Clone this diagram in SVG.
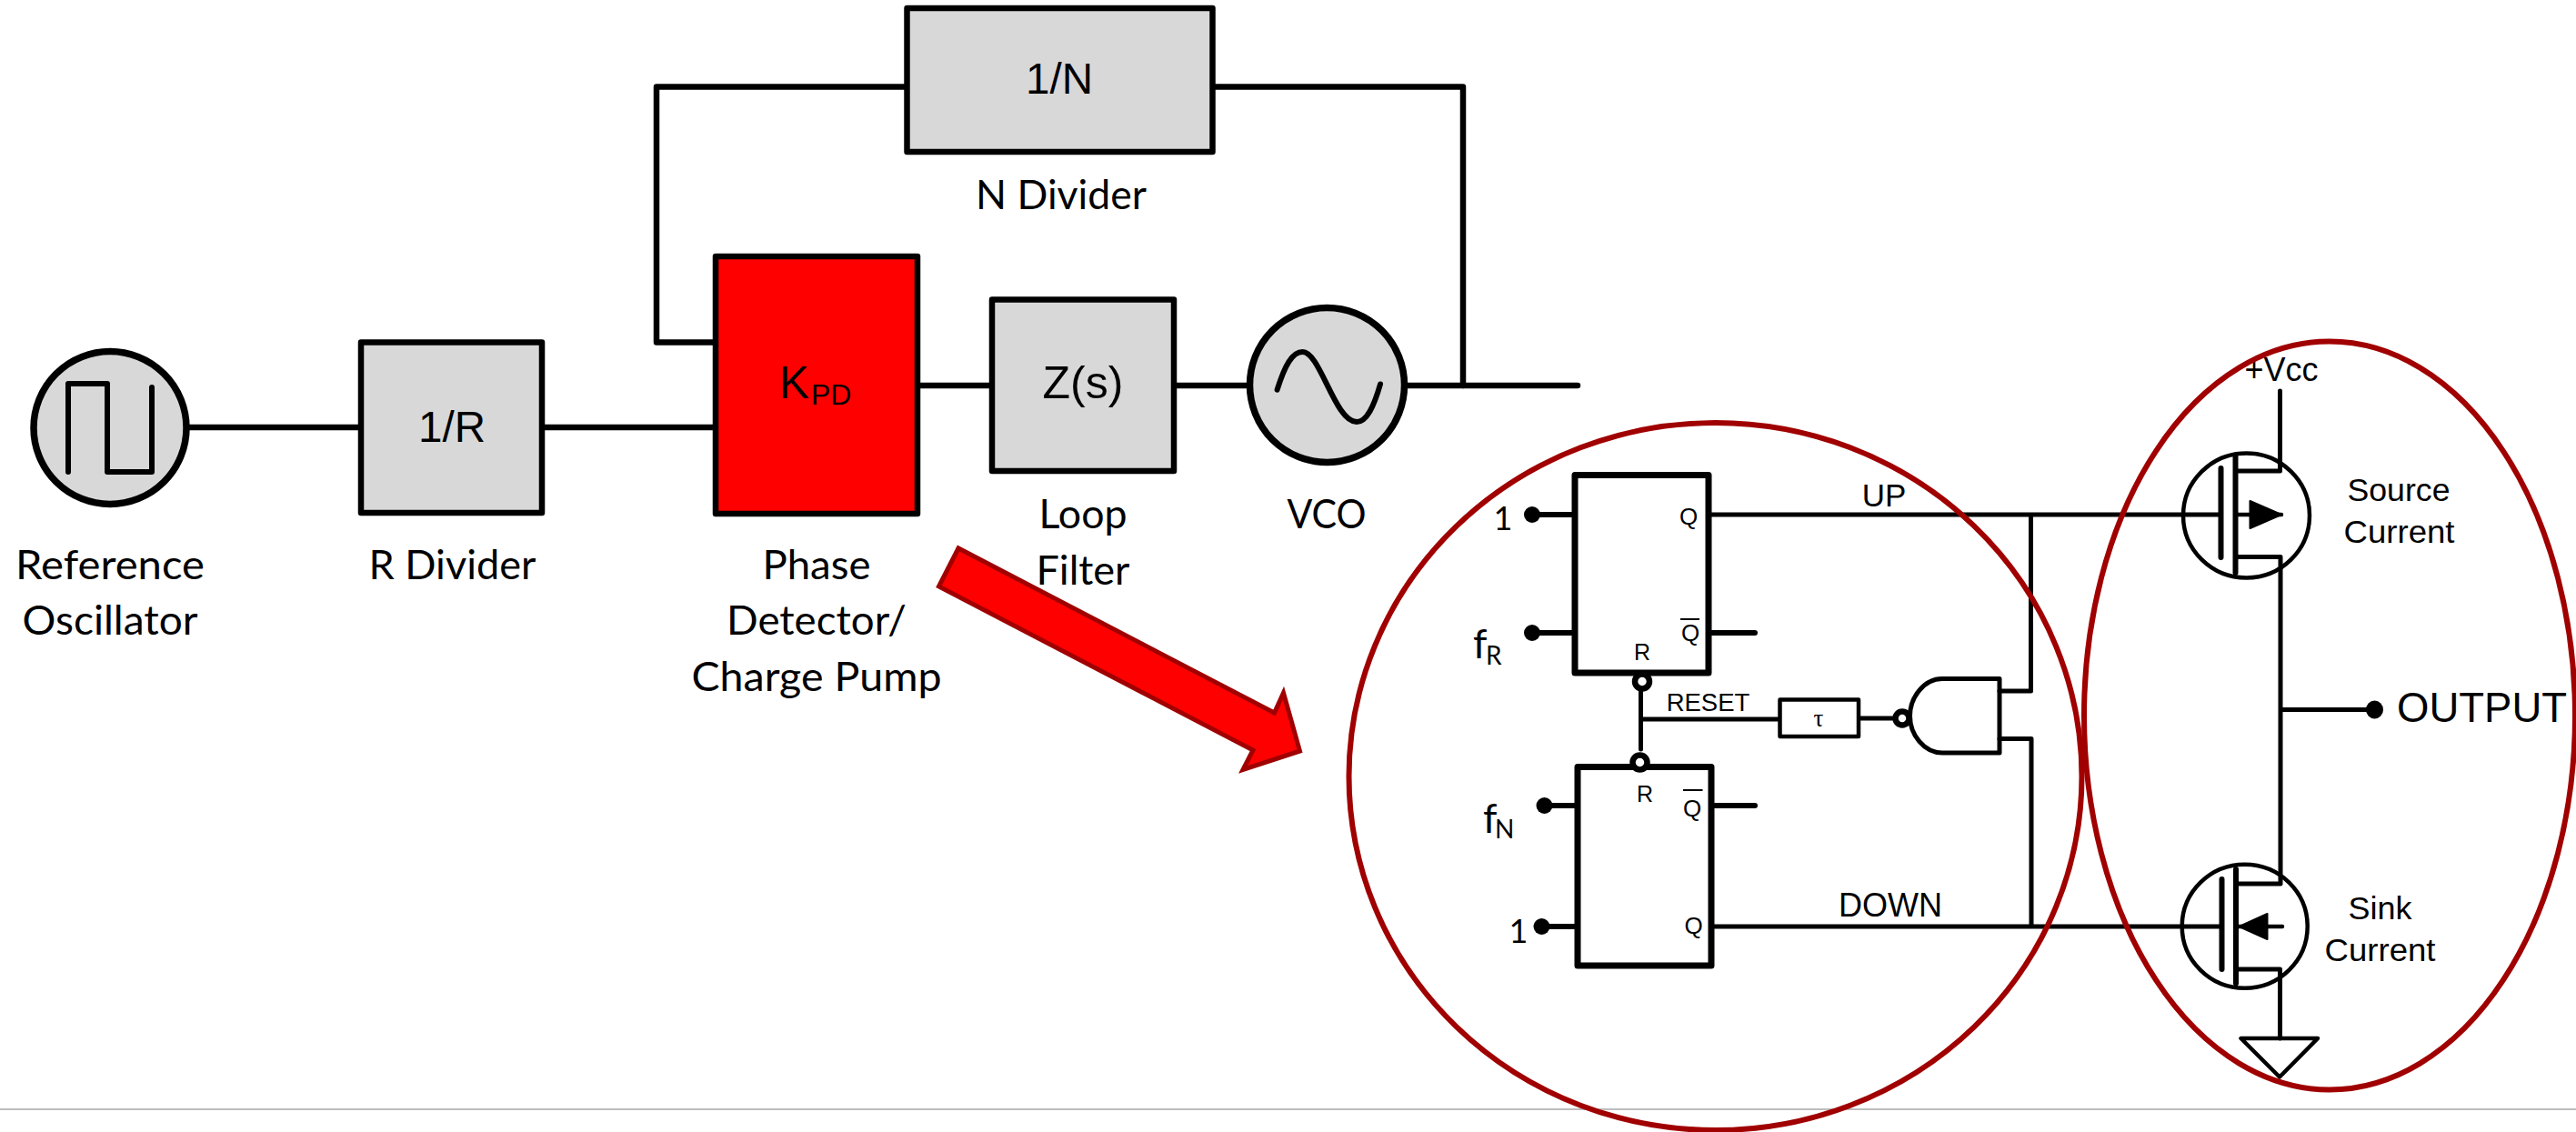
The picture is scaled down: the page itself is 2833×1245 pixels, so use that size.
<svg xmlns="http://www.w3.org/2000/svg" width="2833" height="1245" viewBox="0 0 2833 1245">
<style>
text{fill:#000;text-anchor:middle}
.a{font-family:"Liberation Sans",Arial,sans-serif}
.c{font-family:Lato,"Liberation Sans",sans-serif;font-size:44px}
.l{text-anchor:start}
.box{fill:#d8d8d8;stroke:#000;stroke-width:6.5;stroke-linejoin:round}
.osc{stroke-width:7.5}
.w{fill:none;stroke:#000;stroke-linejoin:round;stroke-linecap:round}
.w8{stroke-width:6.500}
.w5{stroke-width:5}
.w6{stroke-width:6}
.w4{stroke-width:4.5}
.ff{fill:#fff;stroke:#000;stroke-width:7;stroke-linejoin:round}
.bub{fill:#fff;stroke:#000;stroke-width:6.5}
.mos{fill:none;stroke:#000;stroke-width:4.5}
.ring{fill:none;stroke:#a00000;stroke-width:6}
</style>
<line x1="0" y1="1220" x2="2833" y2="1220" stroke="#bdbdbd" stroke-width="2"/>
<g id="connectors">
<path class="w w8" d="M207 470H397M596 470H787"/>
<path class="w w8" d="M1009 424H1091M1291 424H1374M1545 424H1735"/>
<path class="w w8" d="M787 376.500H722V95.500H998M1334 95.500H1609V424"/>
<path class="w w6" d="M1685 566H1732M1685 696H1732M1699 886H1735M1695 1019H1735"/>
<path class="w w6" d="M1879 696H1930M1882 886H1930"/>
<path class="w w5" d="M1879 566H2442M1882 1019H2442M2233.500 566V760H2199M2234 1019V812.500H2199"/>
<path class="w w5" d="M1804.500 757V824M1804.500 791H1958M2044 790H2083"/>
<path class="w w5" d="M2507.500 430V518H2460M2460 612.500H2508V972H2460M2460 1066H2507.500V1142M2508 780.500H2611"/>
<text class="a" x="2072" y="556.500" font-size="35">UP</text>
<text class="a" x="2079" y="1008" font-size="36">DOWN</text>
<text class="a" x="1878.500" y="782" font-size="27.500">RESET</text>
</g>
<g id="reference-oscillator">
<ellipse class="box osc" cx="121" cy="470.500" rx="84" ry="84"/>
<path class="w w6" d="M75 519V422H118V519H167V426"/>
<text class="c" x="121" y="637" textLength="208" lengthAdjust="spacingAndGlyphs">Reference</text>
<text class="c" x="121" y="698" textLength="193" lengthAdjust="spacingAndGlyphs">Oscillator</text>
</g>
<g id="r-divider">
<rect class="box" x="397" y="376.500" width="199" height="187.500"/>
<text class="a" x="497" y="486" font-size="47.500">1/R</text>
<text class="c" x="497.500" y="637" textLength="184" lengthAdjust="spacingAndGlyphs">R Divider</text>
</g>
<g id="phase-detector">
<rect class="box" x="787" y="282" width="222" height="283" style="fill:#f00"/>
<text class="a l" x="857" y="438" font-size="50">K</text>
<text class="a l" x="892" y="445" font-size="32">PD</text>
<text class="c" x="898" y="637" textLength="119" lengthAdjust="spacingAndGlyphs">Phase</text>
<text class="c" x="898" y="698" textLength="198" lengthAdjust="spacingAndGlyphs">Detector/</text>
<text class="c" x="898" y="760" textLength="275" lengthAdjust="spacingAndGlyphs">Charge Pump</text>
</g>
<g id="n-divider">
<rect class="box" x="997.500" y="9" width="336" height="158"/>
<text class="a" x="1165" y="103" font-size="47.500">1/N</text>
<text class="c" x="1167" y="230" textLength="188" lengthAdjust="spacingAndGlyphs">N Divider</text>
</g>
<g id="loop-filter">
<rect class="box" x="1091" y="329.500" width="200" height="188.500"/>
<text class="a" x="1191" y="438" font-size="50">Z(s)</text>
<text class="c" x="1191" y="581" textLength="97" lengthAdjust="spacingAndGlyphs">Loop</text>
<text class="c" x="1191" y="642.500" textLength="103" lengthAdjust="spacingAndGlyphs">Filter</text>
</g>
<g id="vco">
<ellipse class="box osc" cx="1459.500" cy="423.500" rx="85" ry="85"/>
<path class="w w6" d="M1404.600 428.700C1413 402 1421 387 1432.600 387C1452 387 1468 464 1492 464C1503 464 1511 447 1518 422.500"/>
<text class="c" x="1459" y="581" textLength="87" lengthAdjust="spacingAndGlyphs">VCO</text>
</g>
<g id="zoom-arrow">
<polygon points="1054,603 1032.500,645 1378,825 1367,846.500 1429.500,826 1411.500,762 1401.500,784" fill="#f00" stroke="#a00000" stroke-width="5"/>
</g>
<g id="flip-flop-r">
<rect class="ff" x="1732" y="522.500" width="147" height="217.500"/>
<circle cx="1685" cy="566" r="9"/>
<circle cx="1685" cy="696" r="9"/>
<text class="c" x="1653" y="583" style="font-size:36px">1</text>
<text class="c l" x="1620" y="724" style="font-size:44px">f</text>
<text class="c l" x="1634" y="731" style="font-size:28px">R</text>
<text class="a" x="1857" y="577" font-size="26">Q</text>
<text class="a" x="1859" y="705" font-size="26">Q</text>
<line x1="1848" y1="681" x2="1869" y2="681" stroke="#000" stroke-width="2"/>
<text class="a" x="1806" y="726" font-size="25">R</text>
<circle class="bub" cx="1806" cy="749.500" r="8"/>
</g>
<g id="flip-flop-n">
<rect class="ff" x="1735" y="843.500" width="147" height="218.500"/>
<circle cx="1698.500" cy="886" r="9"/>
<circle cx="1695.500" cy="1019" r="9"/>
<text class="c l" x="1631" y="916" style="font-size:44px">f</text>
<text class="c l" x="1644" y="922" style="font-size:28px">N</text>
<text class="c" x="1670" y="1037" style="font-size:36px">1</text>
<text class="a" x="1862.500" y="1027" font-size="26">Q</text>
<text class="a" x="1861" y="898" font-size="26">Q</text>
<line x1="1851" y1="869" x2="1872.500" y2="869" stroke="#000" stroke-width="2"/>
<text class="a" x="1809" y="881.500" font-size="25">R</text>
<circle class="bub" cx="1803.500" cy="838.500" r="8"/>
</g>
<g id="delay">
<rect x="1957.500" y="769.500" width="86.500" height="40.500" fill="#fff" stroke="#000" stroke-width="4.500" stroke-linejoin="round"/>
<text x="2000" y="799" font-size="27" font-family="Liberation Serif,serif">τ</text>
</g>
<g id="nand-gate">
<path class="w w5" d="M2199 746.500V828H2136C2116 828 2100.500 808 2100.500 787.500C2100.500 767 2116 746.500 2136 746.500Z"/>
<circle class="bub" cx="2092" cy="790" r="7.500"/>
</g>
<g id="source-mosfet">
<ellipse class="mos" cx="2470.500" cy="567" rx="69.500" ry="68.500"/>
<path class="w w6" d="M2442.500 515V613M2458.500 501V630"/>
<path class="w w4" d="M2460 566H2509"/>
<polygon points="2474.500,551 2474.500,581 2509,566" stroke="#000" stroke-width="2" stroke-linejoin="round"/>
<text class="a" x="2638" y="551" font-size="35" textLength="113" lengthAdjust="spacingAndGlyphs">Source</text>
<text class="a" x="2638.500" y="596.500" font-size="35" textLength="122" lengthAdjust="spacingAndGlyphs">Current</text>
</g>
<g id="sink-mosfet">
<ellipse class="mos" cx="2468.700" cy="1018.700" rx="69" ry="68"/>
<path class="w w6" d="M2443.500 967V1066M2459 956V1081.500"/>
<path class="w w4" d="M2462 1019H2510"/>
<polygon points="2462.500,1019 2493.500,1005 2493.500,1033" stroke="#000" stroke-width="2" stroke-linejoin="round"/>
<text class="a" x="2617.500" y="1011" font-size="35" textLength="70" lengthAdjust="spacingAndGlyphs">Sink</text>
<text class="a" x="2617.500" y="1056.500" font-size="35" textLength="122" lengthAdjust="spacingAndGlyphs">Current</text>
</g>
<g id="ground">
<polygon points="2464.500,1142 2549,1142 2507,1184.500" fill="none" stroke="#000" stroke-width="4.500" stroke-linejoin="round"/>
</g>
<g id="vcc">
<text class="a" x="2509" y="418.500" font-size="36">+Vcc</text>
</g>
<g id="output">
<ellipse cx="2611.500" cy="780.500" rx="9.500" ry="10"/>
<text class="a l" x="2636" y="794" font-size="45.500">OUTPUT</text>
</g>
<g id="zoom-rings">
<ellipse class="ring" cx="1886.500" cy="854" rx="403" ry="389"/>
<ellipse class="ring" cx="2562" cy="787" rx="270" ry="411.500"/>
</g>
</svg>
